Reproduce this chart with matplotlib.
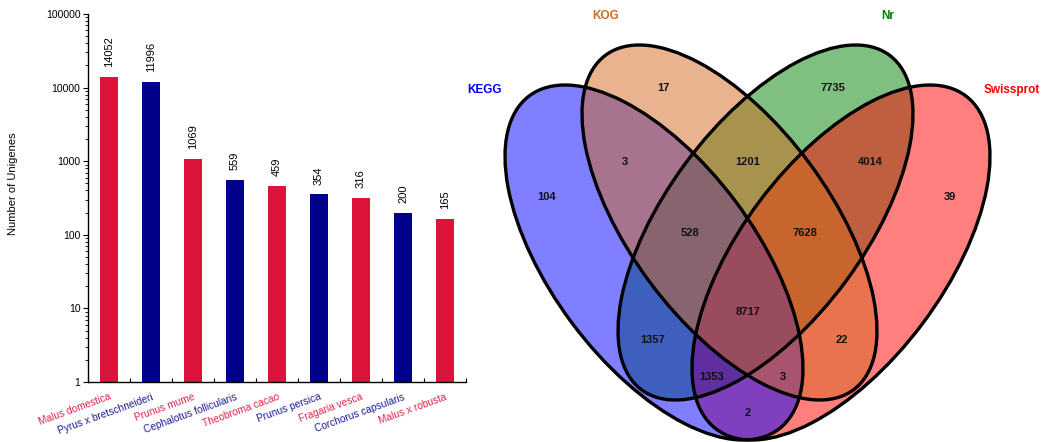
import numpy as np
import matplotlib
matplotlib.use("Agg")
import matplotlib.pyplot as plt
import matplotlib.transforms as mtransforms
from matplotlib.patches import Ellipse
from matplotlib.ticker import FixedLocator, NullFormatter

plt.rcParams['font.family'] = ['Liberation Sans', 'DejaVu Sans']

# ---------------- data ----------------
species = ["Malus domestica", "Pyrus x bretschneideri", "Prunus mume",
           "Cephalotus follicularis", "Theobroma cacao", "Prunus persica",
           "Fragaria vesca", "Corchorus capsularis", "Malus x robusta"]
unigenes = [14052, 11996, 1069, 559, 459, 354, 316, 200, 165]
ytick_values = [1, 10, 100, 1000, 10000, 100000]

set_names = ["KEGG", "KOG", "Nr", "Swissprot"]
region_keys = ["A", "B", "C", "D", "AB", "AC", "AD", "BC", "BD", "CD",
               "ABC", "ABD", "ACD", "BCD", "ABCD"]
region_counts = [104, 17, 7735, 39, 3, 1357, 2, 1201, 22, 4014,
                 528, 3, 1353, 7628, 8717]

# ---------------- styles / layout ----------------
W, H = 1053, 442
bar_colors = ["#DC143C", "#00008B"]
label_colors = ["#E0234A", "#1C1C9A"]
set_colors = {"A": "#0000FF", "B": "#D2691E", "C": "#008000", "D": "#FF0000"}

# ellipse geometry in pixel space (center x, center y, half-extent x, half-extent y, xy moment)
ell_geom = {
    "A": (654.0, 262.5, 149.0, 177.5, 15800.0),
    "B": (729.5, 222.5, 147.5, 177.5, 16000.0),
    "C": (765.5, 222.5, 147.5, 177.5, -16000.0),
    "D": (841.0, 262.5, 149.0, 177.5, -15800.0),
}
region_pos = {
    "A": (547, 197), "B": (663, 88), "C": (833, 88), "D": (950, 197),
    "AB": (625, 162), "BC": (748, 162), "CD": (870, 162),
    "ABC": (690, 233), "BCD": (805, 233), "ABCD": (748, 312),
    "AC": (653, 340), "BD": (842, 340), "ACD": (712, 377),
    "ABD": (783, 377), "AD": (748, 413),
}
set_label_pos = {"A": (485, 90), "B": (606, 16), "C": (888, 16), "D": (1012, 90)}

fig = plt.figure(figsize=(W / 100, H / 100), dpi=100)

# ---------------- Venn diagram ----------------
vax = fig.add_axes([0, 0, 1, 1])
vax.set_xlim(0, W)
vax.set_ylim(H, 0)
vax.axis('off')


def make_ellipse(key, **kw):
    cx, cy, wx, wy, mxy = ell_geom[key]
    M = np.array([[wx ** 2, mxy], [mxy, wy ** 2]])
    vals, vecs = np.linalg.eigh(M)
    v = vecs[:, 1]
    ang = np.degrees(np.arctan2(v[1], v[0]))
    return Ellipse((cx, cy), 2 * np.sqrt(vals[1]), 2 * np.sqrt(vals[0]),
                   angle=ang, **kw)


for key in ["C", "D", "A", "B"]:
    vax.add_patch(make_ellipse(key, facecolor=set_colors[key], alpha=0.5,
                               edgecolor='none'))
for key in ["A", "B", "C", "D"]:
    vax.add_patch(make_ellipse(key, facecolor='none', edgecolor='black',
                               linewidth=2.4))

for key, cnt in zip(region_keys, region_counts):
    x, y = region_pos[key]
    vax.text(x, y, str(cnt), ha='center', va='center', fontsize=8,
             fontweight='bold', color='#111111')

for key, name in zip(["A", "B", "C", "D"], set_names):
    x, y = set_label_pos[key]
    vax.text(x, y, name, ha='center', va='center', fontsize=8.5,
             fontweight='bold', color=set_colors[key])

# ---------------- bar chart ----------------
ax = fig.add_axes([88 / W, (H - 382) / H, (466 - 88) / W, (382 - 14) / H])
ax.set_facecolor('none')
xpos = np.arange(len(species))
cols = [bar_colors[i % 2] for i in range(len(species))]
ax.bar(xpos, unigenes, width=0.43, color=cols, zorder=2)
ax.set_yscale('log')
ax.set_ylim(1, 100000)
ax.set_xlim(-0.5, len(species) - 0.5)

for i, v in enumerate(unigenes):
    ax.annotate(str(v), (xpos[i], v), xytext=(0, 7), textcoords='offset points',
                rotation=90, ha='center', va='bottom', fontsize=8)

ax.yaxis.set_major_locator(FixedLocator(ytick_values))
ax.set_yticklabels([str(t) for t in ytick_values])
minor = [m * 10 ** e for e in range(0, 5) for m in range(2, 10)]
ax.yaxis.set_minor_locator(FixedLocator(minor))
ax.yaxis.set_minor_formatter(NullFormatter())
ax.tick_params(axis='y', which='major', direction='out', length=3.5,
               width=0.8, labelsize=7.5, pad=2)
ax.tick_params(axis='y', which='minor', direction='out', length=2, width=0.6)

ax.set_xticks(xpos)
ax.set_xticklabels(species, rotation=20, ha='right', va='top',
                   rotation_mode='anchor', fontsize=7.3)
shift = mtransforms.ScaledTranslation(3 / 100, 0, fig.dpi_scale_trans)
for i, lab in enumerate(ax.get_xticklabels()):
    lab.set_color(label_colors[i % 2])
    lab.set_transform(lab.get_transform() + shift)
ax.tick_params(axis='x', which='major', length=0, pad=7)
ax.xaxis.set_minor_locator(FixedLocator(np.arange(-0.5, len(species), 1.0)))
ax.tick_params(axis='x', which='minor', direction='in', length=3, width=0.8)

for s in ['top', 'right']:
    ax.spines[s].set_visible(False)
for s in ['left', 'bottom']:
    ax.spines[s].set_linewidth(1.0)

ax.set_ylabel("Number of Unigenes", fontsize=8)
ax.yaxis.set_label_coords((18 - 88) / 378, 0.54)

fig.savefig("out.png", dpi=100)
